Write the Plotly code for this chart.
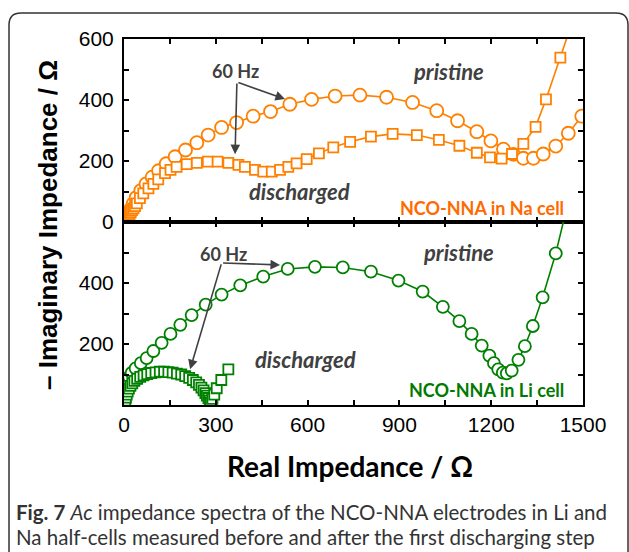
import plotly.graph_objects as go

# ---------------- data ----------------
# Na cell (top panel)
na_pri_x = [4, 9, 15, 22, 30, 40, 55, 72, 92, 113, 138, 167, 201, 238, 275, 319, 368, 422, 479, 542,
            613, 690, 771, 858, 943, 1022, 1090, 1153, 1199, 1240, 1272, 1305, 1338, 1370, 1411, 1452, 1496, 1545]
na_pri_y = [2, 12, 26, 42, 60, 80, 103, 125, 147, 168, 191, 214, 236, 260, 285, 310, 326, 347, 362, 386,
            402, 413, 416, 409, 392, 365, 332, 296, 266, 239, 222, 209, 209, 223, 249, 291, 347, 420]

na_dis_x = [3, 6, 9, 12, 15, 18, 22, 26, 31, 36, 42, 52, 63, 80, 96, 112, 134, 152, 172, 205, 238, 274,
            306, 341, 374, 395, 428, 455, 483, 510, 537, 564, 597, 637, 684, 739, 807, 878, 957, 1029,
            1096, 1153, 1196, 1234, 1268, 1305, 1345, 1379, 1426, 1480]
na_dis_y = [1, 5, 10, 15, 20, 26, 32, 39, 45, 52, 61, 78, 94, 110, 125, 140, 160, 171, 181, 190, 194, 198,
            198, 194, 187, 181, 171, 165, 165, 171, 181, 192, 206, 225, 245, 263, 280, 289, 285, 269,
            250, 227, 212, 208, 223, 256, 312, 402, 539, 700]

# Li cell (bottom panel)
li_pri_x = [2, 4, 6, 9, 12, 17, 25, 38, 55, 74, 96, 123, 152, 184, 221, 267, 319, 380, 455, 535, 624,
            715, 807, 897, 976, 1042, 1096, 1136, 1169, 1194, 1209, 1223, 1238, 1251, 1267, 1289, 1310,
            1336, 1368, 1411, 1455]
li_pri_y = [10, 28, 45, 62, 78, 92, 105, 120, 137, 154, 177, 204, 233, 263, 295, 329, 362, 392, 421, 446,
            453, 451, 437, 408, 372, 322, 275, 233, 195, 162, 137, 117, 106, 104, 113, 148, 193, 259,
            353, 497, 680]

li_dis_x = [2, 4, 6, 9, 12, 16, 21, 27, 34, 43, 53, 64, 76, 89, 103, 117, 131, 145, 159, 173, 187, 200,
            213, 225, 236, 245, 253, 260, 266, 271, 276, 280, 284, 289, 295, 303, 318, 341]
li_dis_y = [4, 14, 24, 34, 44, 54, 63, 71, 79, 86, 92, 97, 101, 105, 107, 109, 109, 108, 106, 103, 100,
            95, 89, 82, 74, 66, 57, 48, 39, 31, 23, 15, 8, 20, 34, 55, 82, 117]

x_ticks = [0, 150, 300, 450, 600, 750, 900, 1050, 1200, 1350, 1500]
x_labels = ["0", "", "300", "", "600", "", "900", "", "1200", "", "1500"]
y_ticks = [0, 100, 200, 300, 400, 500, 600]
y_labels_top = ["0", "", "200", "", "400", "", "600"]
y_labels_bot = ["", "", "200", "", "400", "", ""]

# ---------------- styling ----------------
W, H = 629, 552
ORANGE = "#FF8000"
ORANGE_TXT = "#FF6A00"
GREEN = "#008000"
GREY = "#404040"
ARIAL = "Liberation Sans, Arial, sans-serif"
CAL = "Lato, Open Sans, sans-serif"


def px(x):
    return x / W


def py(y):
    return 1 - y / H


xdom = [px(124), px(583)]
top_dom = [py(222), py(39)]
bot_dom = [py(405), py(222)]

fig = go.Figure()


def series(x, y, color, symbol, size, xa, ya):
    fig.add_trace(go.Scatter(
        x=x, y=y, mode="lines+markers", xaxis=xa, yaxis=ya,
        line=dict(color=color, width=1.6),
        marker=dict(symbol=symbol, size=size, color="white",
                    line=dict(color=color, width=1.8)),
        showlegend=False, hoverinfo="skip"))


series(na_pri_x, na_pri_y, ORANGE, "circle", 13, "x", "y")
series(na_dis_x, na_dis_y, ORANGE, "square", 10, "x", "y")
series(li_pri_x, li_pri_y, GREEN, "circle", 12, "x2", "y2")
series(li_dis_x, li_dis_y, GREEN, "square", 10, "x2", "y2")

axis_common = dict(showline=True, linecolor="black", linewidth=2, mirror="ticks",
                   ticks="inside", ticklen=5, tickwidth=1.5, tickcolor="black",
                   showgrid=False, zeroline=False, automargin=False,
                   tickfont=dict(family=ARIAL, size=21, color="black"))

fig.update_layout(
    width=W, height=H,
    margin=dict(l=0, r=0, t=0, b=0, pad=0, autoexpand=False),
    paper_bgcolor="white", plot_bgcolor="white",
    xaxis=dict(domain=xdom, anchor="y", range=[0, 1500], tickvals=x_ticks,
               ticktext=[""] * len(x_ticks), **axis_common),
    yaxis=dict(domain=top_dom, anchor="x", range=[0, 600], tickvals=y_ticks,
               ticktext=y_labels_top, ticklabelstandoff=4, **axis_common),
    xaxis2=dict(domain=xdom, anchor="y2", range=[0, 1500], tickvals=x_ticks,
                ticktext=x_labels, ticklabelstandoff=0, **axis_common),
    yaxis2=dict(domain=bot_dom, anchor="x2", range=[0, 600], tickvals=y_ticks,
                ticktext=y_labels_bot, ticklabelstandoff=4, **axis_common),
)

ann = []


def text(x, y, s, size, color=GREY, family=CAL, bold=True, italic=False, **kw):
    t = s
    if bold:
        t = "<b>" + t + "</b>"
    if italic:
        t = "<i>" + t + "</i>"
    ann.append(dict(x=px(x), y=py(y), xref="paper", yref="paper", text=t, showarrow=False,
                    xanchor="center", yanchor="middle",
                    font=dict(family=family, size=size, color=color), **kw))


text(235, 71, "60 Hz", 18)
text(449, 71, "pristine", 22, italic=True)
text(299, 191, "discharged", 22, italic=True)
text(482, 208, "NCO-NNA in Na cell", 18, color=ORANGE_TXT)
text(223, 254, "60 Hz", 18)
text(458, 252, "pristine", 22, italic=True)
text(305, 359, "discharged", 22, italic=True)
text(486, 390, "NCO-NNA in Li cell", 18, color="#007A00")

# axis titles
text(350, 466, "Real Impedance / \u03A9", 28, color="black")
ann.append(dict(x=px(48), y=py(225), xref="paper", yref="paper", xanchor="center", yanchor="middle",
                text="<b>\u2013 Imaginary Impedance / \u03A9</b>", showarrow=False, textangle=-90,
                font=dict(family=ARIAL, size=26, color="black")))

# caption
ann.append(dict(x=px(14), y=py(512), xref="paper", yref="paper", xanchor="left", yanchor="middle",
                text="<b>Fig. 7</b> <i>Ac</i> impedance spectra of the NCO-NNA electrodes in Li and",
                showarrow=False, font=dict(family=CAL, size=20.5, color="#333333")))
ann.append(dict(x=px(14), y=py(537), xref="paper", yref="paper", xanchor="left", yanchor="middle",
                text="Na half-cells measured before and after the first discharging step",
                showarrow=False, font=dict(family=CAL, size=20.5, color="#333333")))

# 60 Hz arrows (data coordinates)
arrows = [("x", "y", 369, 459, 526, 403), ("x", "y", 369, 459, 363, 222),
          ("x2", "y2", 319, 466, 510, 459), ("x2", "y2", 319, 466, 216, 117)]
for xr, yr, ax, ay, hx, hy in arrows:
    ann.append(dict(x=hx, y=hy, ax=ax, ay=ay, xref=xr, yref=yr, axref=xr, ayref=yr,
                    text="", showarrow=True, arrowhead=2, arrowsize=1.2, arrowwidth=1.6,
                    arrowcolor=GREY, standoff=0, startstandoff=0))

fig.update_layout(annotations=ann)

# rounded border
x0, y0, x1, y1, r = 9, 13, 628, 560, 12
path = (f"M {px(x0)},{py(y1)} L {px(x0)},{py(y0 + r)} "
        f"Q {px(x0)},{py(y0)} {px(x0 + r)},{py(y0)} "
        f"L {px(x1 - r)},{py(y0)} Q {px(x1)},{py(y0)} {px(x1)},{py(y0 + r)} "
        f"L {px(x1)},{py(y1)}")
fig.add_shape(type="path", path=path, xref="paper", yref="paper",
              line=dict(color="#333333", width=1.5))

fig.write_html("out.html")
